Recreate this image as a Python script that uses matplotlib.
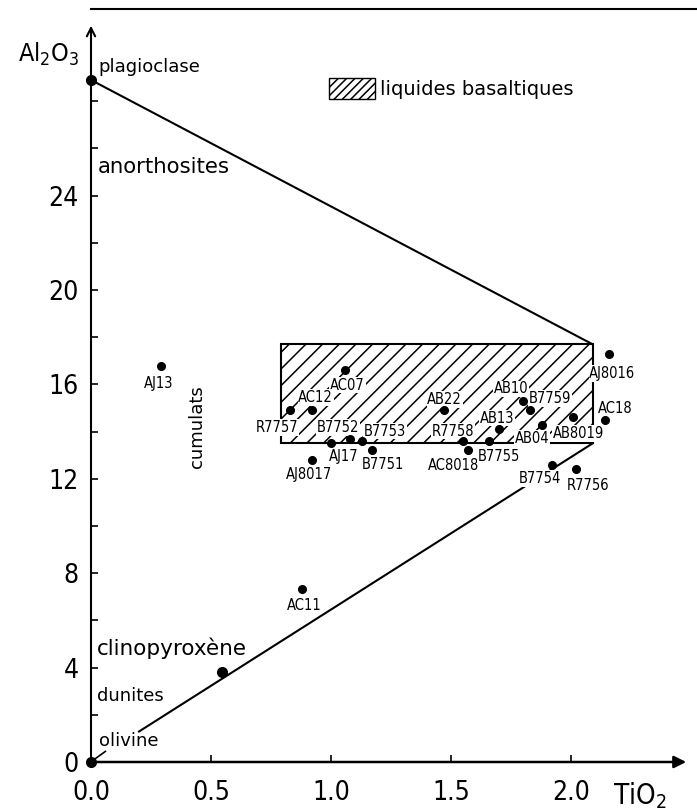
import numpy as np
import matplotlib.pyplot as plt
from matplotlib.patches import Rectangle, Patch

plt.rcParams['font.family'] = ['DejaVu Sans']
plt.rcParams['font.stretch'] = 'condensed'
plt.rcParams['hatch.linewidth'] = 1.1

# analysed samples (TiO2, Al2O3 wt%)
samples = ['AC07', 'R7757', 'AC12', 'B7752', 'B7753', 'AJ17', 'B7751', 'AJ8017',
           'AB22', 'R7758', 'AC8018', 'AB13', 'B7755', 'AB10', 'B7759', 'AB04',
           'AB8019', 'AC18', 'AJ8016', 'B7754', 'R7756', 'AJ13', 'AC11']
tio2 = [1.06, 0.83, 0.92, 1.08, 1.13, 1.00, 1.17, 0.92,
        1.47, 1.55, 1.57, 1.70, 1.66, 1.80, 1.83, 1.88,
        2.01, 2.14, 2.16, 1.92, 2.02, 0.29, 0.88]
al2o3 = [16.6, 14.9, 14.9, 13.7, 13.6, 13.5, 13.2, 12.8,
         14.9, 13.6, 13.2, 14.1, 13.6, 15.3, 14.9, 14.3,
         14.6, 14.5, 17.3, 12.6, 12.4, 16.8, 7.35]

# mineral poles
minerals = ['plagioclase', 'clinopyroxène', 'olivine']
min_tio2 = [0.0, 0.545, 0.0]
min_al2o3 = [28.9, 3.82, 0.0]

# field of basaltic liquids
liq_tio2 = [0.79, 2.09]
liq_al2o3 = [13.5, 17.7]

# label offsets in pixels (layout only)
offsets = {
    'AC07': (2, -15), 'R7757': (-13, -17), 'AC12': (4, 13), 'B7752': (-12, 11),
    'B7753': (23, 10), 'AJ17': (13, -13), 'B7751': (11, -14), 'AJ8017': (-3, -15),
    'AB22': (1, 11), 'R7758': (-10, 10), 'AC8018': (-14, -15), 'AB13': (-2, 11),
    'B7755': (10, -15), 'AB10': (-12, 12), 'B7759': (20, 12), 'AB04': (-10, -14),
    'AB8019': (5, -16), 'AC18': (11, 11), 'AJ8016': (3, -20), 'B7754': (-12, -14),
    'R7756': (12, -16), 'AJ13': (-2, -18), 'AC11': (2, -17),
}

fig = plt.figure(figsize=(6.97, 8.10), dpi=100)
ax = fig.add_axes([91 / 697, 48 / 810, 606 / 697, 762 / 810])
ax.set_xlim(0, 606 / 240)
ax.set_ylim(0, 762 / 23.6)
for s in ax.spines.values():
    s.set_visible(False)

# hatched field
ax.add_patch(Rectangle((liq_tio2[0], liq_al2o3[0]), liq_tio2[1] - liq_tio2[0],
                       liq_al2o3[1] - liq_al2o3[0], facecolor='white',
                       edgecolor='black', hatch='//', lw=1.5, zorder=1))

# mixing lines
ax.plot([min_tio2[0], liq_tio2[1]], [min_al2o3[0], liq_al2o3[1]], color='black', lw=1.5, zorder=2)
slope = liq_al2o3[0] / liq_tio2[1]
ax.plot([0.2, liq_tio2[1]], [0.2 * slope, liq_al2o3[0]], color='black', lw=1.5, zorder=2)
ax.plot([0.015, 0.06], [0.12, 0.45], color='black', lw=1.2)

# axes with arrows
ax.annotate('', xy=(2.48, 0), xytext=(0, 0), annotation_clip=False,
            arrowprops=dict(arrowstyle='-|>', lw=1.8, color='black', mutation_scale=18,
                            shrinkA=0, shrinkB=0))
ax.annotate('', xy=(0, 31.2), xytext=(0, 0), annotation_clip=False,
            arrowprops=dict(arrowstyle='->', lw=1.5, color='black', mutation_scale=15,
                            shrinkA=0, shrinkB=0))
ax.plot([0, 606 / 240], [31.9, 31.9], color='black', lw=1.5, clip_on=False)

ax.set_xticks([0, 0.5, 1.0, 1.5, 2.0])
ax.set_xticklabels(['0.0', '0.5', '1.0', '1.5', '2.0'])
yt = np.arange(0, 30, 2)
ax.set_yticks(yt)
ax.set_yticklabels([str(v) if v % 4 == 0 and v <= 24 else '' for v in yt])
ax.tick_params(axis='both', direction='in', length=5, width=1.2, labelsize=19)
ax.tick_params(axis='x', pad=13)
ax.tick_params(axis='y', pad=9)

# points
ax.plot(tio2, al2o3, 'o', color='black', ms=5.5, zorder=5)
ax.plot(min_tio2, min_al2o3, 'o', color='black', ms=7, zorder=5, clip_on=False)

for name, x, y in zip(samples, tio2, al2o3):
    ax.annotate(name, (x, y), xytext=offsets[name], textcoords='offset pixels',
                ha='center', va='center', fontsize=10.5, zorder=4,
                bbox=dict(boxstyle='square,pad=0.05', fc='white', ec='none'))

# annotations
word = dict(fontstretch='normal', va='center')
ax.text(0.03, 29.45, 'plagioclase', fontsize=13, **word)
ax.text(0.03, 25.2, 'anorthosites', fontsize=15.3, **word)
ax.text(0.025, 4.8, 'clinopyroxène', fontsize=15.5, **word)
ax.text(0.025, 2.8, 'dunites', fontsize=13, **word)
ax.text(0.035, 0.9, 'olivine', fontsize=13, **word)
ax.text(0.44, 14.2, 'cumulats', fontsize=13, rotation=90, ha='center',
        fontstretch='normal', va='center')

ax.text(-0.05, 30.0, r'Al$_2$O$_3$', ha='right', va='center', fontsize=18)
ax.text(2.175, -0.76, r'TiO$_2$', ha='left', va='top', fontsize=20)

ax.legend(handles=[Patch(facecolor='white', edgecolor='black', hatch='////',
                         label='liquides basaltiques')],
          loc='center left', bbox_to_anchor=(0.99, 28.55), bbox_transform=ax.transData,
          frameon=False, handlelength=2.4, handleheight=1.3, handletextpad=0.25,
          borderpad=0, borderaxespad=0, prop={'stretch': 'normal', 'size': 14})

fig.savefig('out.png', dpi=100)
